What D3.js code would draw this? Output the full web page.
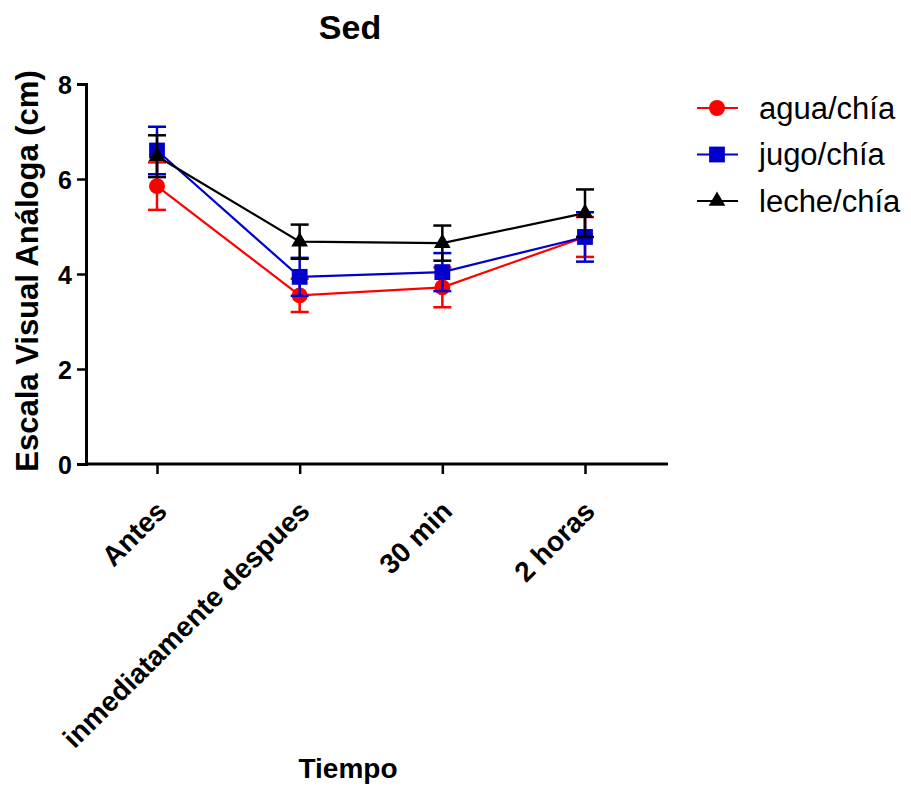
<!DOCTYPE html>
<html>
<head>
<meta charset="utf-8">
<script src="https://cdn.jsdelivr.net/npm/d3@7"></script>
<style>
body{margin:0;background:#fff;}
text{font-family:"Liberation Sans",Arial,sans-serif;}
</style>
</head>
<body>
<script>
/* Sed - escala visual analoga */
var categories = ["Antes", "inmediatamente despues", "30 min", "2 horas"];
var seriesNames = ["agua/chía", "jugo/chía", "leche/chía"];
var aguaMean = [5.85, 3.55, 3.72, 4.78];
var aguaErr = [0.5, 0.35, 0.42, 0.42];
var jugoMean = [6.6, 3.94, 4.04, 4.78];
var jugoErr = [0.5, 0.4, 0.4, 0.52];
var lecheMean = [6.48, 4.68, 4.65, 5.28];
var lecheErr = [0.44, 0.36, 0.37, 0.5];
var yTicks = [0, 2, 4, 6, 8];

var series = [
	{name: seriesNames[0], mean: aguaMean, err: aguaErr, color: "#ff0000", shape: d3.symbolCircle, size: 200},
	{name: seriesNames[1], mean: jugoMean, err: jugoErr, color: "#0000cc", shape: d3.symbolSquare, size: 250},
	{name: seriesNames[2], mean: lecheMean, err: lecheErr, color: "#000000", shape: d3.symbolTriangle, size: 120}
];

var width = 911, height = 791;
var svg = d3.select("body").append("svg").attr("width", width).attr("height", height);

var x = d3.scalePoint().domain(categories).range([157, 585]);
var y = d3.scaleLinear().domain([0, 8]).range([464, 84]);

// axes
var yAxis = svg.append("g").attr("transform", "translate(86,0)")
	.call(d3.axisLeft(y).tickValues(yTicks).tickSize(9).tickPadding(5));
yAxis.select(".domain").attr("stroke-width", 3);
yAxis.selectAll(".tick line").attr("stroke-width", 2.5);
yAxis.selectAll("text").attr("font-size", "25px").attr("font-weight", "bold").attr("fill", "#000").attr("dy", "0.36em");

var xAxis = svg.append("g").attr("transform", "translate(0,464)")
	.call(d3.axisBottom(x).tickSize(10).tickPadding(4));
xAxis.select(".domain").attr("d", "M86,0H668").attr("stroke-width", 3);
xAxis.selectAll(".tick line").attr("stroke-width", 2.5);
xAxis.selectAll("text")
	.attr("font-size", "28px").attr("font-weight", "bold").attr("fill", "#000")
	.attr("text-anchor", "end").attr("x", 0).attr("y", 0).attr("dy", 0)
	.attr("transform", "translate(11,49) rotate(-45)");

// titles
svg.append("text").attr("x", 350).attr("y", 39).attr("text-anchor", "middle")
	.attr("font-size", "34px").attr("font-weight", "bold").text("Sed");
svg.append("text").attr("transform", "translate(38,271) rotate(-90)").attr("text-anchor", "middle")
	.attr("font-size", "31px").attr("font-weight", "bold").text("Escala Visual Análoga (cm)");
svg.append("text").attr("x", 348).attr("y", 778).attr("text-anchor", "middle")
	.attr("font-size", "28px").attr("font-weight", "bold").text("Tiempo");

var line = d3.line().x(function(d, i){return x(categories[i]);}).y(function(d){return y(d);});

series.forEach(function(s){
	var g = svg.append("g");
	// error bars
	categories.forEach(function(c, i){
		var cx = x(c), top = y(s.mean[i] + s.err[i]), bot = y(s.mean[i] - s.err[i]);
		g.append("line").attr("x1", cx).attr("x2", cx).attr("y1", top).attr("y2", bot)
			.attr("stroke", s.color).attr("stroke-width", 2.5);
		[top, bot].forEach(function(yy){
			g.append("line").attr("x1", cx - 9).attr("x2", cx + 9).attr("y1", yy).attr("y2", yy)
				.attr("stroke", s.color).attr("stroke-width", 2.5);
		});
	});
	g.append("path").datum(s.mean).attr("d", line).attr("fill", "none")
		.attr("stroke", s.color).attr("stroke-width", 2.2);
	g.selectAll(".pt").data(s.mean).enter().append("path")
		.attr("d", d3.symbol().type(s.shape).size(s.size))
		.attr("transform", function(d, i){return "translate(" + x(categories[i]) + "," + y(d) + ")";})
		.attr("fill", s.color);
});

// legend
var legend = svg.append("g").attr("transform", "translate(697,108)");
series.forEach(function(s, i){
	var row = legend.append("g").attr("transform", "translate(0," + (i * 46.5) + ")");
	row.append("line").attr("x1", 0).attr("x2", 41).attr("stroke", s.color).attr("stroke-width", 2.2);
	row.append("path").attr("d", d3.symbol().type(s.shape).size(s.size)).attr("transform", "translate(20,0)").attr("fill", s.color);
	row.append("text").attr("x", 62).attr("dy", "0.35em").attr("font-size", "31px").text(s.name);
});
</script>
</body>
</html>
